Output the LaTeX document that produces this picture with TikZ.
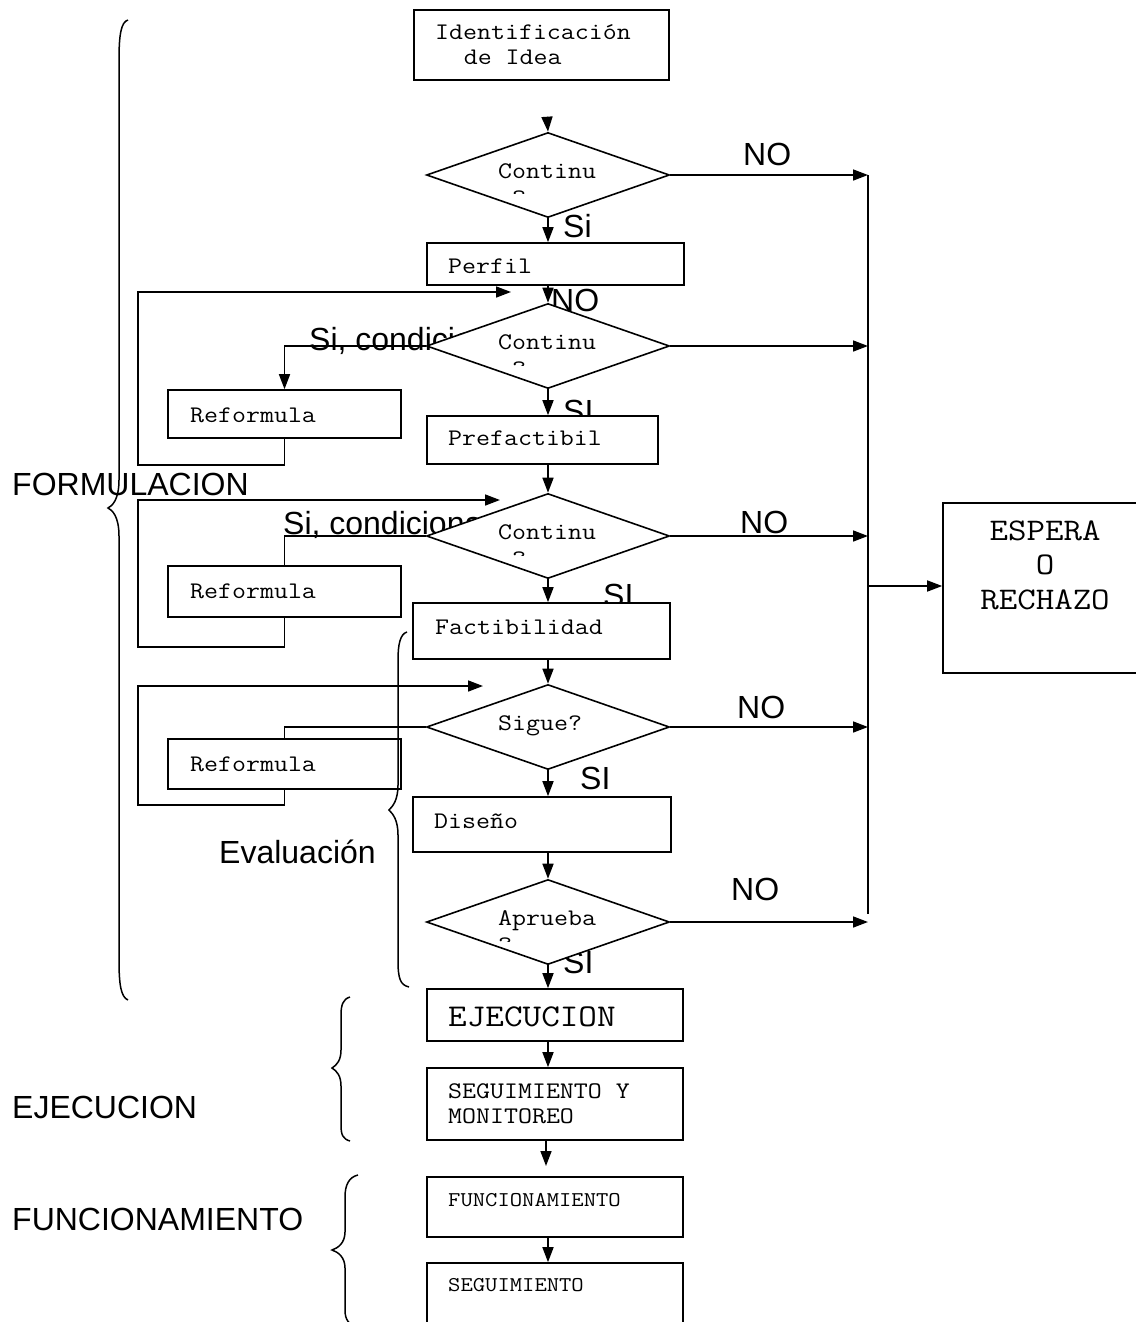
\documentclass[tikz,border=0pt]{standalone}
\usepackage{fontspec}
\setmainfont{Liberation Sans}
\newfontfamily\mono[FakeStretch=1.14]{Latin Modern Mono}
\usetikzlibrary{shapes.geometric,arrows.meta,fit}
\tikzset{
  box/.style={draw, fill=white, line width=1.6pt, inner sep=0pt},
  dia/.style={diamond, draw, fill=white, line width=1.6pt, inner sep=0pt, minimum width=243pt, minimum height=85pt},
  mtxt/.style={anchor=base west, inner sep=0pt, font=\mono\fontsize{23.8}{27}\selectfont},
  mbig/.style={anchor=base west, inner sep=0pt, font=\mono\fontsize{31.7}{36}\selectfont},
  msmall/.style={anchor=base west, inner sep=0pt, font=\mono\fontsize{21}{25}\selectfont},
  mesp/.style={anchor=base, inner sep=0pt, font=\mono\fontsize{31.5}{36}\selectfont},
  ltxt/.style={anchor=base west, inner sep=0pt, font=\fontsize{32}{36}\selectfont},
  arr/.style={line width=1.6pt, -{Triangle[length=15pt,width=11pt]}},
  ln/.style={line width=1.6pt},
  bracestyle/.style={line width=1.5pt},
}
\begin{document}
\begin{tikzpicture}[x=1pt,y=-1pt]
\useasboundingbox (0,0) rectangle (1135,1322);
\fill[white] (0,0) rectangle (1135,1322);

% labels that lie under shapes
\node[ltxt] (lsc1) at (309,350) {Si, condicion};
\node[ltxt] (lsc2) at (283,534) {Si, condiciona};
\node[ltxt] (lsi1) at (563,237) {Si};
\node[ltxt] (lno0) at (551,311) {NO};
\node[ltxt] (lsi2) at (563,422) {SI};
\node[ltxt] (lsi3) at (603,606) {SI};
\node[ltxt] (lsi4) at (580,789) {SI};
\node[ltxt] (lsi5) at (563,973) {SI};
\node[ltxt] (lno1) at (743,165) {NO};
\node[ltxt] (lno3) at (740,533) {NO};
\node[ltxt] (lno4) at (737,718) {NO};
\node[ltxt] (lno5) at (731,900) {NO};

% boxes
\node[box, fit={(414,10) (669,80)}] (idea) {};
\node[box, fit={(427,243) (684,285)}] (perfil) {};
\node[box, fit={(168,390) (401,438)}] (r1) {};
\node[box, fit={(427,416) (658,464)}] (pref) {};
\node[box, fit={(168,566) (401,617)}] (r2) {};
\node[box, fit={(413,603) (670,659)}] (fact) {};
\node[box, fit={(168,739) (401,789)}] (r3) {};
\node[box, fit={(413,797) (671,852)}] (dis) {};
\node[box, fit={(427,989) (683,1041)}] (ejec) {};
\node[box, fit={(427,1068) (683,1140)}] (seg1) {};
\node[box, fit={(427,1177) (683,1237)}] (func) {};
\node[box, fit={(427,1263) (683,1330)}] (seg2) {};
\node[box, fit={(943,503) (1140,673)}] (espera) {};

% diamonds
\node[dia] (d1) at (548,175) {};
\node[dia] (d2) at (548,346) {};
\node[dia] (d3) at (548,536) {};
\node[dia] (d4) at (548,727) {};
\node[dia] (d5) at (548,922) {};

% box texts
\node[mtxt] (tidea1) at (435,40) {Identificación};
\node[mtxt] (tidea2) at (463.6,65) {de Idea};
\node[mtxt] (tperfil) at (448,273) {Perfil};
\node[mtxt] (tr1) at (190,422) {Reformula};
\node[mtxt] (tpref) at (448,445) {Prefactibil};
\node[mtxt] (tr2) at (190,598) {Reformula};
\node[mtxt] (tfact) at (435,634) {Factibilidad};
\node[mtxt] (tr3) at (190,771) {Reformula};
\node[mtxt] (tdis) at (434,828) {Diseño};
\node[mbig] (tejec) at (448,1026) {EJECUCION};
\node[mtxt] (tseg1a) at (448,1098) {SEGUIMIENTO Y};
\node[mtxt] (tseg1b) at (448,1123) {MONITOREO};
\node[msmall] (tfunc) at (448,1206) {FUNCIONAMIENTO};
\node[msmall] (tseg2) at (448,1291) {SEGUIMIENTO};
\node[mesp] (tesp1) at (1045,540) {ESPERA};
\node[mesp] (tesp2) at (1045,574) {O};
\node[mesp] (tesp3) at (1045,609) {RECHAZO};

% diamond texts
\node[mtxt] (td1) at (498,178) {Continu};
\node[mtxt] (td2) at (498,349) {Continu};
\node[mtxt] (td3) at (498,539) {Continu};
\node[mtxt] (td4) at (498,730) {Sigue?};
\node[mtxt] (td5) at (498,925) {Aprueba};
\begin{scope}
  \clip (511,182) rectangle (530,193);
  \node[mtxt] (fd1) at (498,205) {e?};
\end{scope}
\begin{scope}
  \clip (511,353) rectangle (530,365);
  \node[mtxt] (fd2) at (498,376) {e?};
\end{scope}
\begin{scope}
  \clip (511,543) rectangle (530,555);
  \node[mtxt] (fd3) at (498,566) {e?};
\end{scope}
\begin{scope}
  \clip (496,929) rectangle (515,941);
  \node[mtxt] (fd5) at (498,952) {?};
\end{scope}

% main vertical flow
\coordinate (in1) at (547,117);
\draw[arr] (in1) -- (d1.north);
\draw[arr] (d1.south) -- (d1.south |- perfil.north);
\draw[arr] (d1.south |- perfil.south) -- (d2.north);
\draw[arr] (d2.south) -- (d2.south |- pref.north);
\draw[arr] (d2.south |- pref.south) -- (d3.north);
\draw[arr] (d3.south) -- (d3.south |- fact.north);
\draw[arr] (d3.south |- fact.south) -- (d4.north);
\draw[arr] (d4.south) -- (d4.south |- dis.north);
\draw[arr] (d4.south |- dis.south) -- (d5.north);
\draw[arr] (d5.south) -- (d5.south |- ejec.north);
\draw[arr] (d5.south |- ejec.south) -- (d5.south |- seg1.north);
\coordinate (free1) at (546,1166);
\draw[arr] (free1 |- seg1.south) -- (free1);
\draw[arr] (d5.south |- func.south) -- (d5.south |- seg2.north);

% rejection bus
\coordinate (vt) at (868,175);
\coordinate (vb) at (868,914);
\coordinate (vm) at (868,586);
\draw[ln] (vt) -- (vb);
\draw[arr] (d1.east) -- (d1.east -| vt);
\draw[arr] (d2.east) -- (d2.east -| vt);
\draw[arr] (d3.east) -- (d3.east -| vt);
\draw[arr] (d4.east) -- (d4.east -| vt);
\draw[arr] (d5.east) -- (d5.east -| vt);
\draw[arr] (vm) -- (vm -| espera.west);

% reformulation loops
\draw[arr] (d2.west) -- (r1.north |- d2.west) -- (r1.north);
\coordinate (t1) at (511,292);
\draw[arr] (r1.south) -- (284.5,465) -- (138,465) -- (138,292) -- (t1);
\draw[ln] (d3.west) -- (r2.north |- d3.west) -- (r2.north);
\coordinate (t2) at (500,500);
\draw[arr] (r2.south) -- (284.5,647) -- (138,647) -- (138,500) -- (t2);
\draw[ln] (d4.west) -- (r3.north |- d4.west) -- (r3.north);
\coordinate (t3) at (483,686);
\draw[arr] (r3.south) -- (284.5,805) -- (138,805) -- (138,686) -- (t3);

% side labels
\node[ltxt] (lform) at (12,495) {FORMULACION};
\node[ltxt] (leval) at (219,863) {Evaluación};
\node[ltxt] (lejec) at (12,1118) {EJECUCION};
\node[ltxt] (lfunc) at (12,1230) {FUNCIONAMIENTO};

% braces
\draw[bracestyle] (128,20) .. controls (121,22) and (119,35) .. (119,60) -- (119,480)
  .. controls (119,500) and (112,506) .. (108,508)
  .. controls (112,510) and (119,516) .. (119,536) -- (119,960)
  .. controls (119,985) and (121,997) .. (128,1000);
\draw[bracestyle] (407,632) .. controls (400,634) and (398,645) .. (398,660) -- (398,785)
  .. controls (398,800) and (393,806) .. (389,810)
  .. controls (393,814) and (398,820) .. (398,835) -- (398,960)
  .. controls (398,978) and (400,985) .. (409,987);
\draw[bracestyle] (350,997) .. controls (343,999) and (341,1005) .. (341,1015) -- (341,1050)
  .. controls (341,1060) and (337,1065) .. (332,1068)
  .. controls (337,1071) and (341,1076) .. (341,1086) -- (341,1125)
  .. controls (341,1135) and (343,1139) .. (350,1141);
\draw[bracestyle] (358,1175) .. controls (349,1177) and (345,1185) .. (345,1197) -- (345,1232)
  .. controls (345,1243) and (338,1248) .. (332,1250)
  .. controls (338,1252) and (345,1257) .. (345,1268) -- (345,1310)
  .. controls (345,1320) and (349,1325) .. (358,1327);
\end{tikzpicture}
\end{document}
